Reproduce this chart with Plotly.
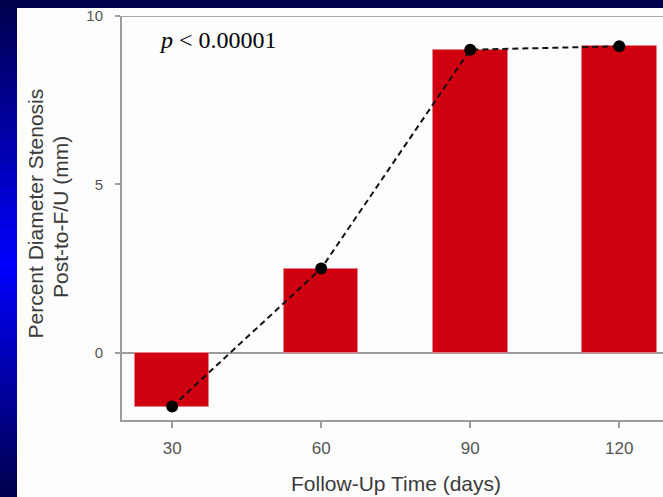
import plotly.graph_objects as go

# Follow-up time points (days) and mean change in diameter stenosis
days = [30, 60, 90, 120]
stenosis = [-1.6, 2.5, 9.0, 9.1]

x_ticks = [30, 60, 90, 120]
y_ticks = [0, 5, 10]

p_label = "<i>p</i> &lt; 0.00001"
x_title = "Follow-Up Time (days)"
y_title_1 = "Percent Diameter Stenosis"
y_title_2 = "Post-to-F/U (mm)"

# Figure geometry (pixels)
FIG_W, FIG_H = 663, 497
L, R, T, B = 122, 663, 16, 420
W, H = R - L, B - T


def px_x(x):
    return (x - L) / W


def px_y(y):
    return (B - y) / H


SANS = "Arial, Liberation Sans, sans-serif"
SERIF = "Times New Roman, Liberation Serif, serif"
AXIS_GRAY = "#9c9c9c"

fig = go.Figure()

fig.add_trace(go.Bar(
    x=days,
    y=stenosis,
    width=15,
    marker=dict(color="#cf0010", line=dict(color="#e6808c", width=1)),
    showlegend=False,
    hoverinfo="x+y",
))

fig.add_trace(go.Scatter(
    x=days,
    y=stenosis,
    mode="lines+markers",
    line=dict(color="#111111", width=2, dash="6px,4px"),
    marker=dict(color="black", size=12),
    showlegend=False,
))

shapes = []

# slide background: white panel over a dark blue frame, with a vertical
# blue gradient down the left margin
n_strips = 60
top_px, bot_px = 8, FIG_H
peak = 265
for i in range(n_strips):
    y0 = top_px + (bot_px - top_px) * i / n_strips
    y1 = top_px + (bot_px - top_px) * (i + 1) / n_strips
    ym = 0.5 * (y0 + y1)
    d = abs(ym - peak) / (peak if ym < peak else (FIG_H - peak))
    k = max(0.0, 1.0 - d)
    blue = int(0x4c + (0xff - 0x4c) * k)
    shapes.append(dict(
        type="rect", xref="paper", yref="paper", layer="below",
        x0=px_x(0), x1=px_x(17.5), y0=px_y(y1 + 0.5), y1=px_y(y0),
        fillcolor=f"rgb(0,0,{blue})", line=dict(width=0),
    ))

shapes.append(dict(
    type="rect", xref="paper", yref="paper", layer="below",
    x0=px_x(17), x1=px_x(FIG_W + 2), y0=px_y(FIG_H + 2), y1=px_y(8),
    fillcolor="#fdfdfd", line=dict(width=0),
))

# top frame line
shapes.append(dict(
    type="line", xref="paper", yref="y",
    x0=0, x1=1, y0=10, y1=10,
    line=dict(color="#a8a8a8", width=2),
))

annotations = [
    dict(x=39.2, y=9.3, xref="x", yref="y", text=p_label, showarrow=False,
         font=dict(family=SERIF, size=24, color="black"),
         xanchor="center", yanchor="middle"),
    dict(x=px_x(396), y=px_y(484), xref="paper", yref="paper", text=x_title,
         showarrow=False, font=dict(family=SANS, size=21, color="#3a3a3a"),
         xanchor="center", yanchor="middle"),
    dict(x=px_x(34.5), y=px_y(214), xref="paper", yref="paper", text=y_title_1,
         showarrow=False, textangle=-90,
         font=dict(family=SANS, size=21, color="#3a3a3a"),
         xanchor="center", yanchor="middle"),
    dict(x=px_x(60), y=px_y(217), xref="paper", yref="paper", text=y_title_2,
         showarrow=False, textangle=-90,
         font=dict(family=SANS, size=21, color="#3a3a3a"),
         xanchor="center", yanchor="middle"),
]

fig.update_layout(
    width=FIG_W,
    height=FIG_H,
    margin=dict(l=L, r=FIG_W - R, t=T, b=FIG_H - B),
    paper_bgcolor="#00004e",
    plot_bgcolor="rgba(0,0,0,0)",
    shapes=shapes,
    annotations=annotations,
    bargap=0,
    xaxis=dict(
        range=[19.9, 128.8],
        tickvals=x_ticks,
        ticktext=[str(v) for v in x_ticks],
        ticks="outside", ticklen=6, tickwidth=2, tickcolor=AXIS_GRAY,
        ticklabelstandoff=6,
        tickfont=dict(family=SANS, size=17, color="#555555"),
        showline=True, linecolor=AXIS_GRAY, linewidth=2,
        showgrid=False, zeroline=False,
    ),
    yaxis=dict(
        range=[-2, 10],
        tickvals=y_ticks,
        ticktext=[str(v) for v in y_ticks],
        ticks="outside", ticklen=5, tickwidth=2, tickcolor=AXIS_GRAY,
        ticklabelstandoff=9,
        tickfont=dict(family=SANS, size=15, color="#555555"),
        showline=True, linecolor=AXIS_GRAY, linewidth=2,
        showgrid=False,
        zeroline=True, zerolinecolor=AXIS_GRAY, zerolinewidth=2,
    ),
)

fig.write_html("out.html")
